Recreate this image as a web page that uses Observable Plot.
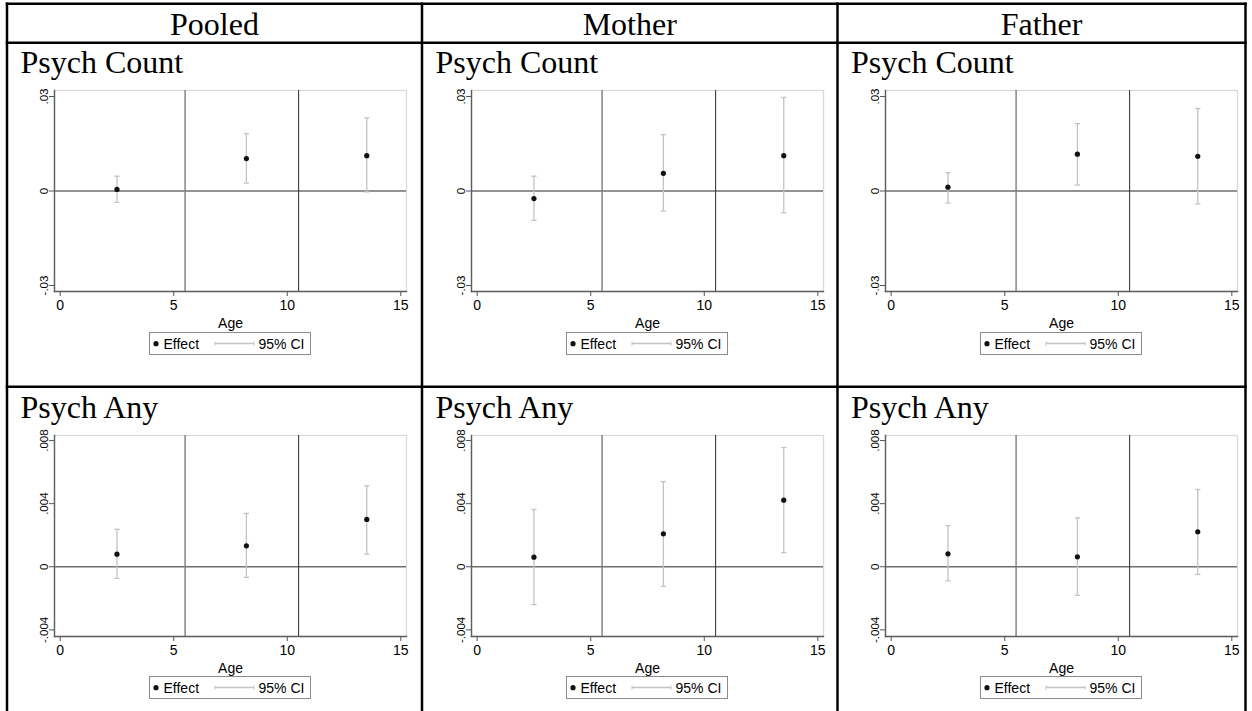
<!DOCTYPE html>
<html>
<head>
<meta charset="utf-8">
<script src="https://cdn.jsdelivr.net/npm/d3@7"></script>
<script src="https://cdn.jsdelivr.net/npm/@observablehq/plot@0.6"></script>
<style>
  body { margin: 0; background: #fff; }
  #page { position: relative; width: 1252px; height: 711px; overflow: hidden; background: #fff; }
  #page > svg, #page > div { position: absolute; }
</style>
</head>
<body>
<div id="page"></div>
<script>
// ---------- data ----------
const columns = ["Pooled", "Mother", "Father"];
const rows = ["Psych Count", "Psych Any"];
const ages = [2.5, 8.2, 13.5];
const xTicks = [0, 5, 10, 15];
const periodBreaks = [5.5, 10.5];

const countTicks = [-0.03, 0, 0.03];
const countTickLabels = ["-.03", "0", ".03"];
const anyTicks = [-0.004, 0, 0.004, 0.008];
const anyTickLabels = ["-.004", "0", ".004", ".008"];

// Psych Count
const pooledCountEst = [0.0005, 0.0103, 0.0112];
const pooledCountLo  = [-0.0036, 0.0025, -0.0003];
const pooledCountHi  = [0.0047, 0.0182, 0.0232];
const motherCountEst = [-0.0024, 0.0056, 0.0112];
const motherCountLo  = [-0.0093, -0.0064, -0.0069];
const motherCountHi  = [0.0047, 0.0179, 0.0297];
const fatherCountEst = [0.0012, 0.0117, 0.0110];
const fatherCountLo  = [-0.0038, 0.0019, -0.0041];
const fatherCountHi  = [0.0058, 0.0214, 0.0262];

// Psych Any
const pooledAnyEst = [0.0008, 0.00133, 0.0030];
const pooledAnyLo  = [-0.00073, -0.00067, 0.0008];
const pooledAnyHi  = [0.00237, 0.00338, 0.00513];
const motherAnyEst = [0.00061, 0.00209, 0.00422];
const motherAnyLo  = [-0.0024, -0.00124, 0.00089];
const motherAnyHi  = [0.00363, 0.0054, 0.00756];
const fatherAnyEst = [0.00082, 0.00063, 0.00222];
const fatherAnyLo  = [-0.00089, -0.00181, -0.00048];
const fatherAnyHi  = [0.0026, 0.0031, 0.0049];

const legendLabels = ["Effect", "95% CI"];
const xLabel = "Age";

// ---------- layout ----------
const W = 1252, H = 711;
const colLines = [7, 422, 837.5, 1245.5];
const rowLines = [3.7, 42.7, 386.7, 740];
const frameLefts = [54, 471, 885];
const frameTops = [90, 435];
const frameW = 352, frameH = 201;
const mL = 48, mR = 10, mT = 10, mB = 40;
const legendTops = [332, 676];

const serif = "'Liberation Serif','Times New Roman',serif";
const sans = "'Liberation Sans',Arial,Helvetica,sans-serif";
const ciColor = "#c3c3c3";

const page = d3.select("#page");

// table overlay
const tbl = page.append("svg").attr("width", W).attr("height", H)
  .style("left", "0px").style("top", "0px");
for (const x of colLines) tbl.append("line").attr("x1", x).attr("x2", x)
  .attr("y1", rowLines[0] - 1.25).attr("y2", rowLines[3]).attr("stroke", "#000").attr("stroke-width", 2.5);
for (const y of rowLines) tbl.append("line").attr("y1", y).attr("y2", y)
  .attr("x1", colLines[0] - 1.25).attr("x2", colLines[3] + 1.25).attr("stroke", "#000").attr("stroke-width", 2.5);
columns.forEach((c, i) => {
  tbl.append("text").text(c).attr("x", (colLines[i] + colLines[i + 1]) / 2).attr("y", 35)
    .attr("text-anchor", "middle").style("font-family", serif).style("font-size", "32px");
});
const titleBaselines = [73.3, 418.3];
rows.forEach((r, j) => {
  columns.forEach((c, i) => {
    tbl.append("text").text(r).attr("x", colLines[i] + 13.5).attr("y", titleBaselines[j])
      .style("font-family", serif).style("font-size", "32px");
  });
});

// cap symbol for CI ends
const capSymbol = {
  draw(ctx, size) {
    const r = Math.sqrt(size / Math.PI);
    ctx.moveTo(-r, 0);
    ctx.lineTo(r, 0);
  }
};

function panel(est, lo, hi, yDomain, yTicks, yLabels) {
  const data = ages.map((a, i) => ({age: a, est: est[i], lo: lo[i], hi: hi[i]}));
  return Plot.plot({
    width: mL + frameW + mR,
    height: mT + frameH + mB,
    marginLeft: mL, marginRight: mR, marginTop: mT, marginBottom: mB,
    style: {fontFamily: sans, background: "transparent", overflow: "visible", color: "#000"},
    x: {domain: [-0.25, 15.25]},
    y: {domain: yDomain},
    marks: [
      Plot.frame({stroke: "#d9d9d9", strokeWidth: 1.3}),
      Plot.ruleY([0], {stroke: "#6f6f6f", strokeWidth: 1.3}),
      Plot.ruleX([periodBreaks[0]], {stroke: "#7c7c7c", strokeWidth: 1.4}),
      Plot.ruleX([periodBreaks[1]], {stroke: "#2b2b2b", strokeWidth: 1}),
      Plot.ruleX(data, {x: "age", y1: "lo", y2: "hi", stroke: ciColor, strokeWidth: 1.3}),
      Plot.dot(data, {x: "age", y: "lo", symbol: capSymbol, r: 2.6, fill: "none", stroke: ciColor, strokeWidth: 1.3}),
      Plot.dot(data, {x: "age", y: "hi", symbol: capSymbol, r: 2.6, fill: "none", stroke: ciColor, strokeWidth: 1.3}),
      Plot.dot(data, {x: "age", y: "est", r: 2.6, fill: "#111", stroke: "none"}),
      Plot.frame({anchor: "left", stroke: "#5e5e5e", strokeWidth: 1.4}),
      Plot.frame({anchor: "bottom", stroke: "#5e5e5e", strokeWidth: 1.4}),
      Plot.axisY(yTicks, {
        tickFormat: (d) => yLabels[yTicks.indexOf(d)],
        tickSize: 5, tickPadding: 1.5, tickRotate: -90,
        fontSize: 11.5, stroke: "#555", fill: "#000", label: null
      }),
      Plot.axisX(xTicks, {
        tickSize: 5, fontSize: 14, stroke: "#555", fill: "#000",
        label: xLabel, labelAnchor: "center", labelArrow: "none", labelOffset: 36.5
      })
    ]
  });
}

const panels = [
  [[pooledCountEst, pooledCountLo, pooledCountHi], [motherCountEst, motherCountLo, motherCountHi], [fatherCountEst, fatherCountLo, fatherCountHi]],
  [[pooledAnyEst, pooledAnyLo, pooledAnyHi], [motherAnyEst, motherAnyLo, motherAnyHi], [fatherAnyEst, fatherAnyLo, fatherAnyHi]]
];
const yDomains = [[-0.0319, 0.0319], [-0.00442, 0.00832]];
const yTickSets = [countTicks, anyTicks];
const yLabelSets = [countTickLabels, anyTickLabels];

panels.forEach((row, j) => {
  row.forEach((p, i) => {
    const svg = panel(p[0], p[1], p[2], yDomains[j], yTickSets[j], yLabelSets[j]);
    svg.style.position = "absolute";
    svg.style.left = (frameLefts[i] - mL) + "px";
    svg.style.top = (frameTops[j] - mT) + "px";
    document.getElementById("page").appendChild(svg);

    // legend below the plot
    const lw = 162, lh = 23;
    const cx = frameLefts[i] + frameW / 2;
    const lg = page.append("svg").attr("width", lw).attr("height", lh)
      .style("left", (cx - lw / 2) + "px").style("top", legendTops[j] + "px");
    lg.append("rect").attr("x", 0.5).attr("y", 0.5).attr("width", lw - 1).attr("height", lh - 1)
      .attr("fill", "#fff").attr("stroke", "#8a8a8a").attr("stroke-width", 1);
    lg.append("circle").attr("cx", 7).attr("cy", 11.7).attr("r", 2.6).attr("fill", "#111");
    lg.append("text").text(legendLabels[0]).attr("x", 14.5).attr("y", 16.7)
      .style("font-family", sans).style("font-size", "14px");
    lg.append("line").attr("x1", 66).attr("x2", 105).attr("y1", 11.5).attr("y2", 11.5)
      .attr("stroke", ciColor).attr("stroke-width", 1.3);
    for (const x of [66, 105]) lg.append("line").attr("x1", x).attr("x2", x).attr("y1", 9.5).attr("y2", 13.5)
      .attr("stroke", ciColor).attr("stroke-width", 1);
    lg.append("text").text(legendLabels[1]).attr("x", 109.5).attr("y", 16.7)
      .style("font-family", sans).style("font-size", "14px");
  });
});
</script>
</body>
</html>
